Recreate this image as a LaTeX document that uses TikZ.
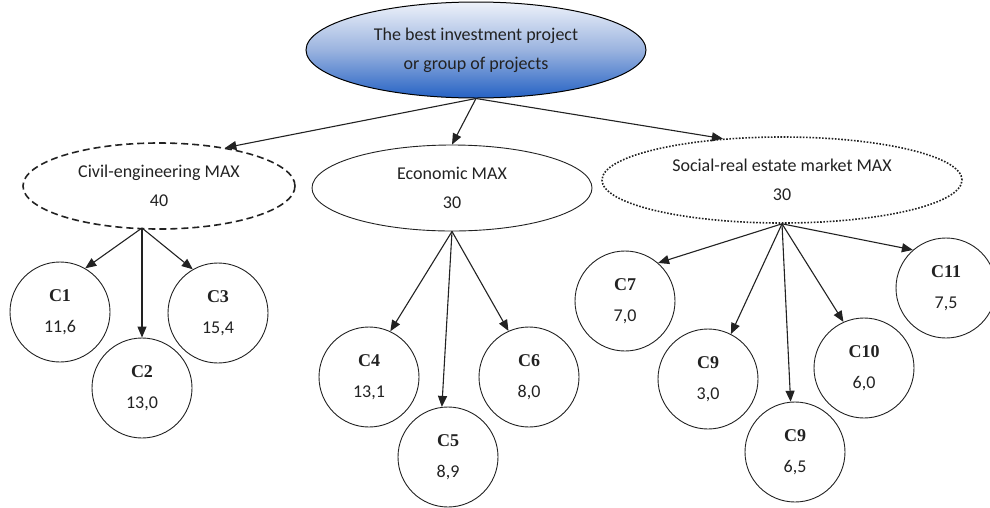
\documentclass[tikz,border=0pt]{standalone}
\usepackage{fontspec}
\setmainfont{Carlito}
\newfontfamily\labfont{Liberation Serif}
\usetikzlibrary{shapes.geometric,arrows.meta}
\definecolor{topc}{HTML}{EEF2FA}
\definecolor{midc}{HTML}{9AB3DF}
\definecolor{botc}{HTML}{2562C4}
\definecolor{linec}{HTML}{222222}
\begin{document}
\begin{tikzpicture}[x=1pt,y=-1pt,
  txt/.style={font=\fontsize{18}{29}\selectfont, align=center, text=linec},
  topell/.style={ellipse, draw=black, line width=1pt, top color=topc, bottom color=botc, middle color=midc, minimum width=340pt, minimum height=96pt, inner sep=0pt, txt},
  civell/.style={ellipse, draw=linec, line width=1.6pt, dash pattern=on 7pt off 4pt, minimum width=272pt, minimum height=86pt, inner sep=0pt, txt},
  ecoell/.style={ellipse, draw=linec, line width=0.9pt, minimum width=280pt, minimum height=86pt, inner sep=0pt, txt},
  socell/.style={ellipse, draw=linec, line width=1.6pt, dash pattern=on 1.6pt off 1.6pt, minimum width=360pt, minimum height=86pt, inner sep=0pt, txt},
  crit/.style={circle, draw=linec, line width=0.9pt, minimum size=100pt, inner sep=0pt, align=center, font=\fontsize{18}{31}\selectfont, text=linec},
  arr/.style={draw=linec, line width=1.1pt, -{Triangle[length=11pt,width=9pt]}},
  lab/.style={font=\labfont\bfseries}
  ]
\useasboundingbox (0,0) rectangle (990,507);

\node[topell] (top) at (476,50) {The best investment project\\or group of projects};
\node[civell] (civ) at (159,186) {Civil-engineering MAX\\40};
\node[ecoell] (eco) at (452,188) {Economic MAX\\30};
\node[socell] (soc) at (782,180) {Social-real estate market MAX\\30};

\coordinate (tsrc) at (top.south);
\coordinate (csrc) at (142,228);
\coordinate (esrc) at (eco.south);
\coordinate (ssrc) at (soc.south);

\draw[arr] (tsrc) -- (civ.30);
\draw[arr] (tsrc) -- (eco.north);
\draw[arr] (tsrc) -- (soc.145);

\node[crit] (c1) at (60,312) {{\labfont\bfseries C1}\\11,6};
\node[crit] (c2) at (142,388) {{\labfont\bfseries C2}\\13,0};
\node[crit] (c3) at (218,313) {{\labfont\bfseries C3}\\15,4};
\node[crit] (c4) at (369,377) {{\labfont\bfseries C4}\\13,1};
\node[crit] (c5) at (448,457) {{\labfont\bfseries C5}\\8,9};
\node[crit] (c6) at (529,377) {{\labfont\bfseries C6}\\8,0};
\node[crit] (c7) at (625,301) {{\labfont\bfseries C7}\\7,0};
\node[crit] (c9a) at (708,379) {{\labfont\bfseries C9}\\3,0};
\node[crit] (c9b) at (795,452) {{\labfont\bfseries C9}\\6,5};
\node[crit] (c10) at (864,368) {{\labfont\bfseries C10}\\6,0};
\node[crit] (c11) at (946,288) {{\labfont\bfseries C11}\\7,5};

\draw[arr] (csrc) -- (c1.60);
\draw[arr] (csrc) -- (c2.north);
\draw[arr] (csrc) -- (c3.120);

\draw[arr] (esrc) -- (c4.65);
\draw[arr] (esrc) -- (c5.97);
\draw[arr] (esrc) -- (c6.114);

\draw[arr] (ssrc) -- (c7.49);
\draw[arr] (ssrc) -- (c9a.63);
\draw[arr] (ssrc) -- (c9b.95);
\draw[arr] (ssrc) -- (c10.114);
\draw[arr] (ssrc) -- (c11.131);
\end{tikzpicture}
\end{document}
